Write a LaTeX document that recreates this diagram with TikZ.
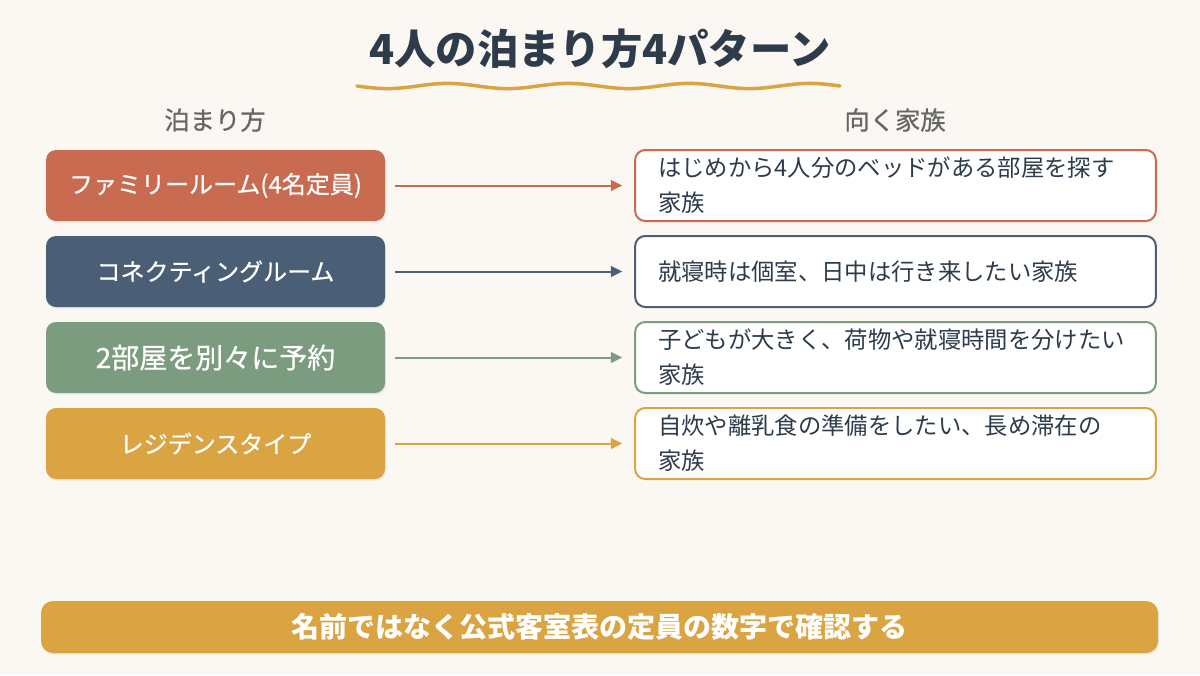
\documentclass[tikz,border=0pt]{standalone}
\usepackage{fontspec}
\setmainfont{Noto Sans CJK JP}
\newfontfamily\medfont{Noto Sans CJK JP}[FakeBold=0.6]
\usetikzlibrary{arrows.meta,shadows}
\definecolor{bgc}{HTML}{FBF7F2}
\definecolor{titlec}{HTML}{2D3B4B}
\definecolor{headc}{HTML}{666666}
\definecolor{terra}{HTML}{C86B51}
\definecolor{slate}{HTML}{4A5F76}
\definecolor{sage}{HTML}{7C9C80}
\definecolor{mustard}{HTML}{D9A441}
\tikzset{
  leftbox/.style={fill=#1, rounded corners=7.5pt, minimum width=254.25pt, minimum height=53.25pt, inner sep=0pt,
    text=white, font=\medfont\fontsize{18}{22}\selectfont,
    drop shadow={opacity=0.12, shadow xshift=0.8pt, shadow yshift=-1.2pt}},
  rightbox/.style={draw=#1, line width=1.5pt, fill=white, rounded corners=7.5pt, text width=356pt, inner xsep=17.25pt, inner ysep=0pt,
    minimum height=53.25pt, align=left, text=titlec, font=\fontsize{17.5}{26.25}\selectfont},
  link/.style={draw=#1, line width=1.5pt, -{Triangle[length=8.5pt,width=8pt]}, shorten <=7.5pt, shorten >=9pt},
  header/.style={text=headc, font=\medfont\fontsize{19}{22}\selectfont}
}
\begin{document}
\begin{tikzpicture}[x=0.75pt,y=-0.75pt]
\useasboundingbox[fill=bgc] (0,0) rectangle (1200,675);
% title
\node[text=titlec, font=\fontsize{31}{36}\bfseries] (title) at (600,49) {4人の泊まり方4パターン};
\draw[mustard, line width=2.6pt, line cap=round, domain=357:840, samples=120] plot (\x, {86+2.6*sin((\x-357)/483*1440)});
% headers
\node[header] (h1) at (215,120) {泊まり方};
\node[header] (h2) at (895,120) {向く家族};
% left boxes
\node[leftbox=terra] (l1) at (215.5,185.5) {ファミリールーム(4名定員)};
\node[leftbox=slate] (l2) at (215.5,271.5) {コネクティングルーム};
\node[leftbox=sage, font=\medfont\fontsize{21}{24}\selectfont] (l3) at (215.5,357.5) {2部屋を別々に予約};
\node[leftbox=mustard] (l4) at (215.5,443.5) {レジデンスタイプ};
% right boxes
\node[rightbox=terra] (r1) at (895.5,185.5) {はじめから4人分のベッドがある部屋を探す\\家族};
\node[rightbox=slate] (r2) at (895.5,271.5) {就寝時は個室、日中は行き来したい家族};
\node[rightbox=sage] (r3) at (895.5,357.5) {子どもが大きく、荷物や就寝時間を分けたい\\家族};
\node[rightbox=mustard] (r4) at (895.5,443.5) {自炊や離乳食の準備をしたい、長め滞在の\\家族};
% connectors
\draw[link=terra] (l1) -- (r1);
\draw[link=slate] (l2) -- (r2);
\draw[link=sage] (l3) -- (r3);
\draw[link=mustard] (l4) -- (r4);
% bottom bar
\node[fill=mustard, rounded corners=9pt, minimum width=837.75pt, minimum height=39pt, inner sep=0pt, text=white,
  font=\fontsize{21}{24}\bfseries, drop shadow={opacity=0.12, shadow xshift=0.8pt, shadow yshift=-1.2pt}] (note) at (599.5,627) {名前ではなく公式客室表の定員の数字で確認する};
\end{tikzpicture}
\end{document}
